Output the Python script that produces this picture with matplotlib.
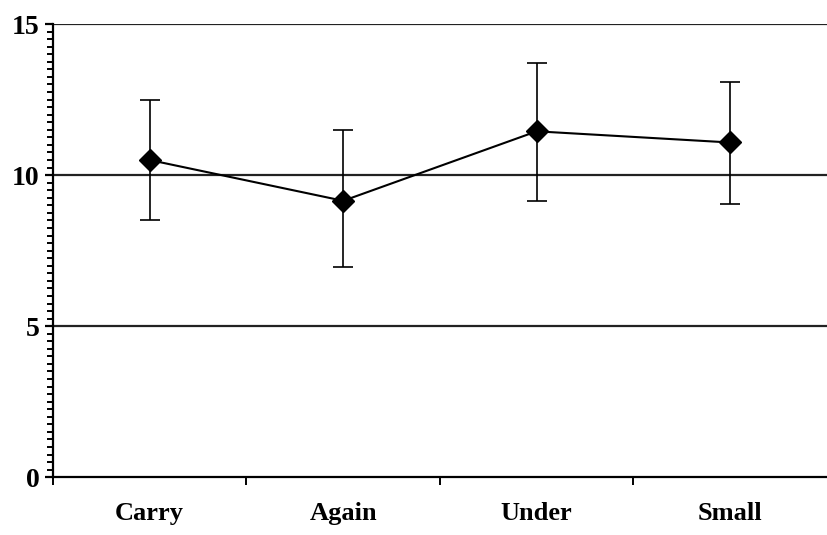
import numpy as np
import matplotlib.pyplot as plt
from matplotlib.ticker import MultipleLocator

words = ["Carry", "Again", "Under", "Small"]
means = [10.5, 9.15, 11.45, 11.08]
err_low = [2.0, 2.2, 2.3, 2.05]
err_high = [2.0, 2.35, 2.25, 2.0]

plt.rcParams['font.family'] = ['Liberation Serif', 'DejaVu Serif']

fig = plt.figure(figsize=(8.27, 5.35), dpi=100)
ax = fig.add_axes([0.064, 0.108, 0.936, 0.847])

x = np.arange(len(words))
ax.errorbar(x, means, yerr=[err_low, err_high], color="black", lw=1.5,
            marker="D", markersize=11, capsize=7, elinewidth=1.2, capthick=1.2,
            zorder=3)

# horizontal rules at the major steps
for yv in [5, 10, 15]:
    ax.axhline(yv, color="#222222", lw=1.6, zorder=1)

ax.set_ylim(0, 15)
ax.set_xlim(-0.5, len(words) - 0.5)
ax.yaxis.set_major_locator(MultipleLocator(5))
ax.yaxis.set_minor_locator(MultipleLocator(0.25))
ax.set_xticks(x)
ax.set_xticklabels(words, fontsize=19, fontweight="bold")
ax.set_xticks(np.arange(len(words)) - 0.5, minor=True)
ax.tick_params(axis="x", which="major", length=0, pad=18)
ax.tick_params(axis="x", which="minor", length=6, width=1.4)
ax.tick_params(axis="y", which="major", length=6, width=1.6, labelsize=20)
ax.tick_params(axis="y", which="minor", length=4, width=1.4)
for lab in ax.get_yticklabels():
    lab.set_fontweight("bold")

for side in ["top", "right"]:
    ax.spines[side].set_visible(False)
ax.spines["left"].set_linewidth(1.6)
ax.spines["bottom"].set_linewidth(1.6)

fig.savefig("out.png", dpi=100)
